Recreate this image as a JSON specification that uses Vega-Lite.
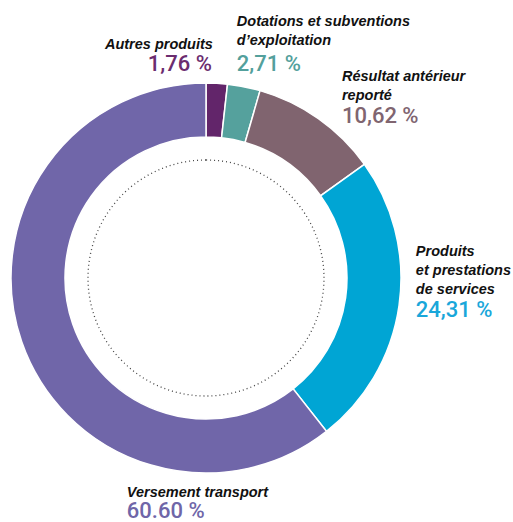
{
  "$schema": "https://vega.github.io/schema/vega-lite/v6.json",
  "width": 412,
  "height": 556,
  "padding": {"left": 0, "top": 0, "right": 101, "bottom": 0},
  "autosize": {"type": "none"},
  "background": "white",
  "config": {"view": {"stroke": null}},
  "data": {
    "values": [
      {"n": 1, "label": "Autres produits", "value": 1.76, "pct": "1,76 %"},
      {"n": 2, "label": "Dotations et subventions\nd’exploitation", "value": 2.71, "pct": "2,71 %"},
      {"n": 3, "label": "Résultat antérieur\nreporté", "value": 10.62, "pct": "10,62 %"},
      {"n": 4, "label": "Produits\net prestations\nde services", "value": 24.31, "pct": "24,31 %"},
      {"n": 5, "label": "Versement transport", "value": 60.60, "pct": "60.60 %"}
    ]
  },
  "resolve": {"scale": {"theta": "independent"}},
  "layer": [
    {
      "data": {"values": [{"c": 1}]},
      "mark": {"type": "arc", "outerRadius": 118, "innerRadius": 0, "filled": false, "stroke": "#444444", "strokeWidth": 1.3, "strokeDash": [1, 3]},
      "encoding": {"theta": {"field": "c", "type": "quantitative", "stack": true, "scale": {"domain": [0, 1]}}}
    },
    {
      "encoding": {
        "theta": {"field": "value", "type": "quantitative", "stack": true},
        "order": {"field": "n", "type": "quantitative"}
      },
      "layer": [
        {
          "mark": {"type": "arc", "outerRadius": 195, "innerRadius": 141, "stroke": "white", "strokeWidth": 1.5},
          "encoding": {
            "color": {"field": "n", "type": "nominal", "legend": null,
              "scale": {"domain": [1, 2, 3, 4, 5], "range": ["#62256a", "#55a19d", "#80646f", "#00a5d4", "#7066a9"]}}
          }
        },
        {
          "mark": {"type": "text", "align": "right", "baseline": "alphabetic", "dx": -5, "dy": -14, "font": "Liberation Sans, Arial, sans-serif", "fontSize": 14.5, "fontWeight": "bold", "fontStyle": "italic", "lineBreak": "\n", "lineHeight": 19, "fill": "#111111"},
          "encoding": {"radius": {"value": 215}, "text": {"condition": {"test": "datum.n === 1", "field": "label", "type": "nominal"}, "value": ""}}
        },
        {
          "mark": {"type": "text", "align": "right", "baseline": "alphabetic", "dx": -6, "dy": 8, "font": "Roboto, sans-serif", "fontSize": 22, "fontWeight": 500, "fill": "#6b2c6f"},
          "encoding": {"radius": {"value": 215}, "text": {"condition": {"test": "datum.n === 1", "field": "pct", "type": "nominal"}, "value": ""}}
        },
        {
          "mark": {"type": "text", "align": "left", "baseline": "alphabetic", "dx": -11, "dy": -41, "font": "Liberation Sans, Arial, sans-serif", "fontSize": 14.5, "fontWeight": "bold", "fontStyle": "italic", "lineBreak": "\n", "lineHeight": 19, "fill": "#111111"},
          "encoding": {"radius": {"value": 215}, "text": {"condition": {"test": "datum.n === 2", "field": "label", "type": "nominal"}, "value": ""}}
        },
        {
          "mark": {"type": "text", "align": "left", "baseline": "alphabetic", "dx": -11, "dy": 4, "font": "Roboto, sans-serif", "fontSize": 22, "fontWeight": 500, "fill": "#53a09c"},
          "encoding": {"radius": {"value": 215}, "text": {"condition": {"test": "datum.n === 2", "field": "pct", "type": "nominal"}, "value": ""}}
        },
        {
          "mark": {"type": "text", "align": "left", "baseline": "alphabetic", "dx": 12, "dy": -21, "font": "Liberation Sans, Arial, sans-serif", "fontSize": 14.5, "fontWeight": "bold", "fontStyle": "italic", "lineBreak": "\n", "lineHeight": 19, "fill": "#111111"},
          "encoding": {"radius": {"value": 215}, "text": {"condition": {"test": "datum.n === 3", "field": "label", "type": "nominal"}, "value": ""}}
        },
        {
          "mark": {"type": "text", "align": "left", "baseline": "alphabetic", "dx": 12, "dy": 21, "font": "Roboto, sans-serif", "fontSize": 22, "fontWeight": 500, "fill": "#806570"},
          "encoding": {"radius": {"value": 215}, "text": {"condition": {"test": "datum.n === 3", "field": "pct", "type": "nominal"}, "value": ""}}
        },
        {
          "mark": {"type": "text", "align": "left", "baseline": "alphabetic", "dx": -3, "dy": -52, "font": "Liberation Sans, Arial, sans-serif", "fontSize": 14.5, "fontWeight": "bold", "fontStyle": "italic", "lineBreak": "\n", "lineHeight": 19, "fill": "#111111"},
          "encoding": {"radius": {"value": 215}, "text": {"condition": {"test": "datum.n === 4", "field": "label", "type": "nominal"}, "value": ""}}
        },
        {
          "mark": {"type": "text", "align": "left", "baseline": "alphabetic", "dx": -3, "dy": 9, "font": "Roboto, sans-serif", "fontSize": 22, "fontWeight": 500, "fill": "#19a7da"},
          "encoding": {"radius": {"value": 215}, "text": {"condition": {"test": "datum.n === 4", "field": "pct", "type": "nominal"}, "value": ""}}
        },
        {
          "mark": {"type": "text", "align": "left", "baseline": "alphabetic", "dx": 124, "dy": 149, "font": "Liberation Sans, Arial, sans-serif", "fontSize": 14.5, "fontWeight": "bold", "fontStyle": "italic", "lineBreak": "\n", "lineHeight": 19, "fill": "#111111"},
          "encoding": {"radius": {"value": 215}, "text": {"condition": {"test": "datum.n === 5", "field": "label", "type": "nominal"}, "value": ""}}
        },
        {
          "mark": {"type": "text", "align": "left", "baseline": "alphabetic", "dx": 124, "dy": 170, "font": "Roboto, sans-serif", "fontSize": 22, "fontWeight": 500, "fill": "#6f66a8"},
          "encoding": {"radius": {"value": 215}, "text": {"condition": {"test": "datum.n === 5", "field": "pct", "type": "nominal"}, "value": ""}}
        }
      ]
    }
  ]
}
